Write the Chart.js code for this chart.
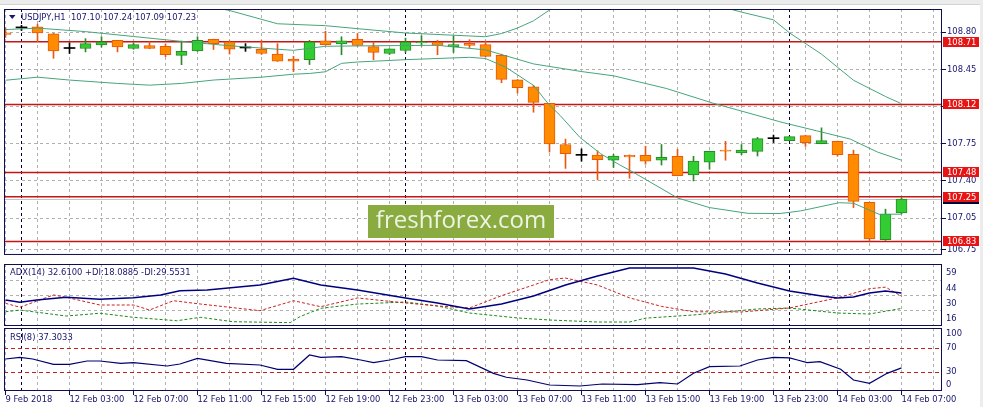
<!DOCTYPE html>
<html>
<head>
<meta charset="utf-8">
<script src="https://cdn.jsdelivr.net/npm/chart.js@4.4.1/dist/chart.umd.min.js"></script>
<style>
  html, body { margin: 0; padding: 0; background: #fff; }
  #wrap { position: relative; width: 983px; height: 407px; overflow: hidden; background: #fff; }
  #wrap canvas { position: absolute; left: 0; }
  .topbar { position: absolute; left: 0; top: 0; width: 983px; height: 4px; background: #ececec; border-bottom: 1px solid #d4d4d4; }
  .rightbar { position: absolute; right: 0; top: 0; width: 3px; height: 407px; background: #ececec; }
</style>
</head>
<body>
<div id="wrap">
  <canvas id="main" width="983" height="261" style="top:0"></canvas>
  <canvas id="adx" width="983" height="66" style="top:262px"></canvas>
  <canvas id="rsi" width="983" height="81" style="top:326px"></canvas>
  <div class="topbar"></div>
  <div class="rightbar"></div>
</div>
<script>
// --- Data (USDJPY H1, bar 0 = 9 Feb 23:00, bar 56 = 14 Feb 07:00) ---
const opens  = [108.794,108.841,108.85,108.785,108.647,108.647,108.68,108.723,108.647,108.675,
                108.668,108.582,108.625,108.733,108.71,108.652,108.64,108.594,108.548,108.542,
                108.72,108.69,108.733,108.665,108.60,108.628,108.70,108.708,108.662,108.696,
                108.684,108.582,108.352,108.287,108.13,107.743,107.641,107.644,107.595,107.641,
                107.641,107.595,107.632,107.457,107.577,107.69,107.665,107.678,107.798,107.78,
                107.826,107.752,107.773,107.65,107.199,106.848,107.10];
const highs  = [108.843,108.865,108.877,108.79,108.70,108.74,108.758,108.725,108.70,108.71,
                108.69,108.717,108.758,108.735,108.72,108.693,108.723,108.693,108.573,108.723,
                108.81,108.758,108.788,108.708,108.645,108.745,108.767,108.723,108.763,108.73,
                108.717,108.594,108.355,108.30,108.13,107.794,107.702,107.684,107.65,107.645,
                107.727,107.743,107.697,107.632,107.68,107.773,107.743,107.81,107.832,107.82,
                107.83,107.90,107.775,107.69,107.20,107.134,107.24];
const lows   = [108.751,108.816,108.711,108.555,108.60,108.615,108.66,108.615,108.64,108.645,
                108.57,108.495,108.62,108.638,108.595,108.62,108.59,108.525,108.43,108.496,
                108.68,108.588,108.67,108.542,108.59,108.61,108.67,108.588,108.61,108.656,
                108.57,108.324,108.228,108.047,107.672,107.518,107.586,107.41,107.527,107.425,
                107.558,107.55,107.448,107.40,107.51,107.595,107.647,107.635,107.762,107.778,
                107.725,107.75,107.632,107.149,106.835,106.84,107.09];
const closes = [108.779,108.841,108.794,108.625,108.647,108.693,108.71,108.662,108.684,108.647,
                108.588,108.62,108.723,108.693,108.64,108.652,108.60,108.527,108.527,108.711,
                108.684,108.72,108.675,108.61,108.643,108.711,108.71,108.675,108.684,108.675,
                108.573,108.357,108.278,108.14,107.748,107.656,107.641,107.60,107.635,107.626,
                107.586,107.623,107.45,107.586,107.678,107.68,107.69,107.798,107.798,107.817,
                107.761,107.78,107.647,107.208,106.853,107.088,107.23];

// Bollinger bands, read at bar positions
const upperAt   = [10, 12, 14, 17, 20, 22, 25, 30, 31, 32, 33, 34, 35, 40, 45, 46, 48, 49, 51, 53, 55, 56];
const upperVals = [109.12,109.065,109.005,108.88,108.862,108.834,108.793,108.758,108.788,108.84,108.908,
                   109.009,109.10,109.2,109.03,108.99,108.917,108.794,108.594,108.348,108.195,108.127];
const midAt   = [0, 2, 5, 8, 11, 14, 17, 18, 20, 23, 27, 30, 33, 36, 38, 41.3, 44.2, 48.6, 50.7, 52.8, 54.5, 56];
const midVals = [108.825,108.839,108.806,108.76,108.714,108.673,108.64,108.63,108.668,108.673,108.677,
                 108.634,108.502,108.43,108.39,108.271,108.133,107.949,107.872,107.794,107.672,107.595];
const lowAt   = [0, 2, 4, 7, 9, 11, 13, 16, 18, 19, 20, 21, 22, 25, 29, 30, 31.3, 33, 33.9, 34.7, 35.9,
                 37.2, 38.4, 39.2, 42, 44, 46.4, 48.4, 49.7, 52.1, 53, 54.6, 56];
const lowVals = [108.348,108.377,108.35,108.318,108.302,108.318,108.35,108.377,108.405,108.412,108.428,
                 108.507,108.52,108.542,108.564,108.553,108.468,108.30,108.131,108.011,107.81,107.656,
                 107.55,107.485,107.24,107.149,107.095,107.093,107.118,107.195,107.19,107.086,107.087];

// Horizontal levels and axis ticks
const levels = [108.71, 108.12, 107.48, 107.25, 106.83];
const priceTicks = [108.80, 108.45, 108.10, 107.75, 107.40, 107.05, 106.75];

// ADX(14)
const adxAt   = [0, 0.9, 1.95, 3.8, 5.9, 8, 9.7, 10.9, 12.6, 15.9, 18, 19.7, 22, 25, 27, 29, 31, 33, 35, 37, 39, 43, 45, 47, 49, 51, 52, 53, 54, 55, 56];
const adxVals = [26, 23.8, 26, 28.5, 26.6, 28.1, 30.7, 34.7, 35.3, 40, 46.3, 40, 35.3, 27.9, 23.2, 17.6, 22.2, 29.7, 40, 48.4, 55.9, 55.9, 50.3, 41.9, 34.4, 29.7, 27.9, 28.8, 32.5, 34.4, 32.61];
const pdiAt   = [0, 0.9, 3.8, 5.9, 8, 10.7, 12.2, 14.2, 17.8, 18.4, 19.7, 22, 25, 27, 29, 32, 34, 37, 39, 40, 43, 47, 49, 52, 54, 56];
const pdiVals = [15, 16.6, 11, 13.6, 9.8, 6.6, 9.8, 5.7, 4.8, 10.4, 18.2, 22.2, 24.1, 20.4, 13.8, 9.2, 7.3, 5.4, 5.4, 9, 12, 17.6, 18.5, 13.8, 12.9, 18.09];
const mdiAt   = [0, 0.9, 3, 3.8, 5.9, 8, 9, 10.5, 12.2, 15.9, 18, 19.7, 22, 25, 27, 29, 31, 33, 34, 35, 37, 39, 41, 43, 46, 49, 52, 54, 55, 56];
const mdiVals = [22.9, 19.2, 30.7, 28.5, 21.3, 21.3, 16.6, 25.3, 22.2, 16, 25.3, 19.7, 27.9, 23.2, 20.4, 18.5, 30, 40, 45, 46.5, 40, 28, 20, 15, 14.8, 18.5, 28, 36.5, 38, 29.55];
const adxTicks = [59, 44, 30, 16];

// RSI(8)
const rsiAt   = [0, 0.9, 1.7, 3, 4, 5.1, 5.9, 7.2, 8, 10.1, 10.9, 12, 13.8, 15.9, 17, 18, 19, 19.7, 21, 22.2, 23, 24,
                 25, 26, 27, 28.8, 30.5, 31.3, 32.6, 34, 35.9, 37.3, 39.5, 40.9, 42, 43, 44, 45.9, 47, 48, 49,
                 49.5, 50.1, 50.9, 52.2, 53, 54, 55.1, 56];
const rsiVals = [52.2, 55, 52.2, 43.3, 43.3, 48.8, 48.8, 45, 46, 40.5, 43.8, 53.3, 45, 42.2, 35, 35, 58.8, 55, 56, 50.5, 46, 50.5,
                 56, 56, 50.5, 49.3, 28.3, 21.7, 17.2, 8.8, 7.2, 10.5, 9.5, 12.7, 10.5, 28.3, 39.3, 40.5, 50.5, 55, 54,
                 50.5, 46, 47.7, 35, 17.2, 11.7, 28.3, 37.3];
const rsiLevels = [70, 30];
const rsiTicks = [100, 70, 30, 0];

// Time axis
const gridBars = [0,2,4,6,8,10,12,14,16,18,20,22,24,26,28,30,32,34,36,38,40,42,44,46,48,50,52,54,56,58];
const timeLabelAt = [0, 4, 8, 12, 16, 20, 24, 28, 32, 36, 40, 44, 48, 52, 56];
const timeLabels = ['9 Feb 2018', '12 Feb 03:00', '12 Feb 07:00', '12 Feb 11:00', '12 Feb 15:00', '12 Feb 19:00',
                    '12 Feb 23:00', '13 Feb 03:00', '13 Feb 07:00', '13 Feb 11:00', '13 Feb 15:00', '13 Feb 19:00',
                    '13 Feb 23:00', '14 Feb 03:00', '14 Feb 07:00'];
const daySeparators = [1, 25, 49];

// --- Styles ---
const NAVY = '#16166e';
const FRAME = '#0d0d50';
const GRID = '#b0b0b0';
const NONE = 'rgba(0,0,0,0)';
const FONT = { family: 'DejaVu Sans', size: 8.4 };
const FONT_CSS = '8.4px "DejaVu Sans"';
const X_MIN = -0.09375, X_MAX = 58.53125;

Chart.defaults.animation = false;
Chart.defaults.font.family = 'DejaVu Sans';

const pts = (xs, ys) => xs.map((x, i) => ({ x, y: ys[i] }));

function xScale(showLabels) {
  return {
    type: 'linear', min: X_MIN, max: X_MAX, offset: false,
    afterBuildTicks: s => { s.ticks = gridBars.map(v => ({ value: v })); },
    afterFit: s => { s.height = showLabels ? 16 : 0; },
    grid: {
      offset: false, color: NONE, lineWidth: 1,
      drawTicks: showLabels, tickLength: 4,
      tickColor: c => (c.tick && timeLabelAt.includes(c.tick.value)) ? FRAME : NONE
    },
    border: { display: false },
    ticks: {
      display: showLabels, autoSkip: false, maxRotation: 0, minRotation: 0,
      align: 'start', padding: 0, color: NAVY, font: FONT,
      callback: v => { const k = timeLabelAt.indexOf(v); return k >= 0 ? timeLabels[k] : ''; }
    }
  };
}

function line(ctx, x1, y1, x2, y2) {
  ctx.beginPath(); ctx.moveTo(x1, y1); ctx.lineTo(x2, y2); ctx.stroke();
}

// --- Dashed grid drawn from the scales ---
function gridPlugin(yValues) {
  return {
    id: 'dashGrid',
    beforeDatasetsDraw(chart) {
      const { ctx, chartArea: a, scales: { x, y } } = chart;
      ctx.save();
      ctx.strokeStyle = GRID; ctx.lineWidth = 1; ctx.setLineDash([3, 3]);
      gridBars.forEach(b => {
        const px = Math.round(x.getPixelForValue(b) - 0.5) + 0.5;
        line(ctx, px, a.top, px, a.bottom);
      });
      yValues.forEach(v => {
        const py = Math.round(y.getPixelForValue(v) - 0.5) + 0.5;
        line(ctx, a.left, py, a.right, py);
      });
      ctx.restore();
    }
  };
}

// --- Shared panel plugin: day separators + frame ---
const panelPlugin = {
  id: 'panel',
  beforeDatasetsDraw(chart) {
    const { ctx, chartArea: a, scales: { x } } = chart;
    ctx.save();
    ctx.strokeStyle = '#000033'; ctx.lineWidth = 1; ctx.setLineDash([3, 3]);
    daySeparators.forEach(b => {
      const px = Math.round(x.getPixelForValue(b) - 0.5) + 0.5;
      line(ctx, px, a.top, px, a.bottom);
    });
    ctx.restore();
  },
  afterDraw(chart) {
    const { ctx, chartArea: a } = chart;
    ctx.save();
    ctx.strokeStyle = FRAME; ctx.lineWidth = 1;
    ctx.strokeRect(a.left + 0.5, a.top + 0.5, a.right - a.left - 1, a.bottom - a.top - 1);
    ctx.restore();
  }
};

function titlePlugin(text, tx, ty) {
  return {
    id: 'title_' + tx,
    afterDatasetsDraw(chart) {
      const ctx = chart.ctx;
      ctx.save();
      ctx.font = FONT_CSS; ctx.fillStyle = NAVY; ctx.textBaseline = 'middle'; ctx.textAlign = 'left';
      ctx.fillText(text, tx, ty);
      ctx.restore();
    }
  };
}

function sideLabels(values, shift) {
  return {
    id: 'sideLabels',
    afterDraw(chart) {
      const { ctx, chartArea: a, scales: { y } } = chart;
      ctx.save();
      ctx.font = FONT_CSS; ctx.fillStyle = NAVY; ctx.textBaseline = 'middle'; ctx.textAlign = 'left';
      values.forEach(v => {
        let py = y.getPixelForValue(v) + shift;
        py = Math.min(Math.max(py, a.top + 6), a.bottom - 6);
        ctx.fillText(String(v), a.right + 4, py);
      });
      ctx.restore();
    }
  };
}

// --- Main price panel ---
const last = opens.length - 1;
const bidPrice = closes[last];
const mainTitle = 'USDJPY,H1  ' + [opens[last], highs[last], lows[last], closes[last]].map(v => v.toFixed(2)).join(' ');

const kind = opens.map((o, i) => closes[i] > o ? 'up' : (closes[i] < o ? 'down' : 'doji'));
const FILL = { up: '#32cd32', down: '#ff8c00', doji: '#000000' };
const EDGE = { up: '#2a8a2a', down: '#e8580f', doji: '#000000' };

const mainPlugin = {
  id: 'mainExtras',
  beforeDatasetsDraw(chart) {
    const { ctx, chartArea: a, scales: { y } } = chart;
    ctx.save();
    ctx.strokeStyle = '#c4c4c4'; ctx.lineWidth = 1;
    let py = Math.round(y.getPixelForValue(bidPrice)) + 0.5;
    line(ctx, a.left, py, a.right, py);
    ctx.strokeStyle = '#c81414'; ctx.lineWidth = 1.5;
    levels.forEach(l => {
      py = y.getPixelForValue(l);
      line(ctx, a.left, py, a.right, py);
    });
    ctx.restore();
  },
  afterDatasetsDraw(chart) {
    const ctx = chart.ctx;
    ctx.save();
    // watermark
    ctx.fillStyle = '#8aab3f';
    ctx.fillRect(368, 205, 186, 33);
    ctx.fillStyle = '#eef3e4';
    ctx.font = '24px "Open Sans"';
    ctx.textAlign = 'center'; ctx.textBaseline = 'middle';
    ctx.fillText('freshforex.com', 461, 221);
    // title
    ctx.fillStyle = NAVY;
    ctx.beginPath(); ctx.moveTo(9, 15); ctx.lineTo(15.5, 15); ctx.lineTo(12.25, 19); ctx.closePath(); ctx.fill();
    ctx.font = FONT_CSS; ctx.textAlign = 'left';
    ctx.fillText(mainTitle, 21, 17.5);
    ctx.restore();
  },
  afterDraw(chart) {
    const { ctx, chartArea: a, scales: { y } } = chart;
    ctx.save();
    ctx.font = FONT_CSS; ctx.textBaseline = 'middle'; ctx.textAlign = 'left';
    let py = Math.round(y.getPixelForValue(bidPrice));
    ctx.fillStyle = '#000040';
    ctx.fillRect(a.right + 1, py - 5, 36, 10);
    levels.forEach(l => {
      py = Math.round(y.getPixelForValue(l));
      ctx.fillStyle = '#e81414';
      ctx.fillRect(a.right + 1, py - 5, 36, 10);
      ctx.fillStyle = '#ffffff';
      ctx.fillText(l.toFixed(2), a.right + 5, py + 0.5);
    });
    ctx.restore();
  }
};

const bandStyle = { type: 'line', borderColor: '#46a57a', borderWidth: 1, pointRadius: 0, tension: 0, fill: false };

new Chart(document.getElementById('main'), {
  type: 'bar',
  data: {
    datasets: [
      { ...bandStyle, data: pts(upperAt, upperVals) },
      { ...bandStyle, data: pts(midAt, midVals) },
      { ...bandStyle, data: pts(lowAt, lowVals) },
      {
        data: opens.map((o, i) => ({ x: i, y: [Math.min(o, closes[i]), Math.max(o, closes[i])] })),
        backgroundColor: kind.map(k => FILL[k]),
        borderColor: kind.map(k => EDGE[k]),
        borderWidth: kind.map(k => k === 'doji' ? 0 : 1),
        borderSkipped: false, barThickness: 11, grouped: false, minBarLength: 1
      },
      {
        data: opens.map((o, i) => ({ x: i, y: [lows[i], highs[i]] })),
        backgroundColor: kind.map(k => EDGE[k]),
        borderWidth: 0, borderSkipped: false, barThickness: 1, grouped: false
      }
    ]
  },
  options: {
    responsive: false, events: [],
    layout: { padding: { left: 4, top: 9, right: 0, bottom: 1 } },
    plugins: { legend: { display: false }, tooltip: { enabled: false } },
    scales: {
      x: xScale(false),
      y: {
        position: 'right', min: 106.703, max: 109.019,
        afterBuildTicks: s => { s.ticks = priceTicks.map(v => ({ value: v })); },
        afterFit: s => { s.width = 41; },
        grid: { color: NONE, drawTicks: true, tickLength: 4, tickColor: FRAME },
        border: { display: false },
        ticks: { color: NAVY, font: FONT, padding: 1, callback: v => v.toFixed(2) }
      }
    }
  },
  plugins: [gridPlugin(priceTicks), panelPlugin, mainPlugin]
});

// --- ADX panel ---
new Chart(document.getElementById('adx'), {
  type: 'line',
  data: {
    datasets: [
      { data: pts(adxAt, adxVals), borderColor: '#000080', borderWidth: 1.5, pointRadius: 0, tension: 0 },
      { data: pts(mdiAt, mdiVals), borderColor: '#cc2020', borderWidth: 1, borderDash: [3, 2], pointRadius: 0, tension: 0 },
      { data: pts(pdiAt, pdiVals), borderColor: '#1a8a1a', borderWidth: 1, borderDash: [3, 2], pointRadius: 0, tension: 0 }
    ]
  },
  options: {
    responsive: false, events: [],
    layout: { padding: { left: 4, top: 2, right: 0, bottom: 2 } },
    plugins: { legend: { display: false }, tooltip: { enabled: false } },
    scales: {
      x: xScale(false),
      y: {
        position: 'right', min: 1.68, max: 59.63,
        afterBuildTicks: s => { s.ticks = adxTicks.map(v => ({ value: v })); },
        afterFit: s => { s.width = 41; },
        grid: { color: NONE, drawTicks: false },
        border: { display: false },
        ticks: { display: false }
      }
    }
  },
  plugins: [gridPlugin(adxTicks.slice(1)), panelPlugin, sideLabels(adxTicks, 8),
            titlePlugin('ADX(14) 32.6100 +DI:18.0885 -DI:29.5531', 10, 10.7)]
});

// --- RSI panel ---
const rsiPlugin = {
  id: 'rsiLevels',
  beforeDatasetsDraw(chart) {
    const { ctx, chartArea: a, scales: { y } } = chart;
    ctx.save();
    ctx.strokeStyle = '#c02020'; ctx.lineWidth = 1; ctx.setLineDash([4, 3]);
    rsiLevels.forEach(l => {
      const py = Math.round(y.getPixelForValue(l)) + 0.5;
      line(ctx, a.left, py, a.right, py);
    });
    ctx.restore();
  }
};

new Chart(document.getElementById('rsi'), {
  type: 'line',
  data: {
    datasets: [
      { data: pts(rsiAt, rsiVals), borderColor: '#000070', borderWidth: 1.2, pointRadius: 0, tension: 0 }
    ]
  },
  options: {
    responsive: false, events: [],
    layout: { padding: { left: 4, top: 2, right: 0, bottom: 0 } },
    plugins: { legend: { display: false }, tooltip: { enabled: false } },
    scales: {
      x: xScale(true),
      y: {
        position: 'right', min: -1.17, max: 103.83,
        afterBuildTicks: s => { s.ticks = rsiTicks.map(v => ({ value: v })); },
        afterFit: s => { s.width = 41; },
        grid: { display: false },
        border: { display: false },
        ticks: { display: false }
      }
    }
  },
  plugins: [gridPlugin([]), panelPlugin, rsiPlugin, sideLabels(rsiTicks, 0),
            titlePlugin('RSI(8) 37.3033', 10, 11.5)]
});
</script>
</body>
</html>
